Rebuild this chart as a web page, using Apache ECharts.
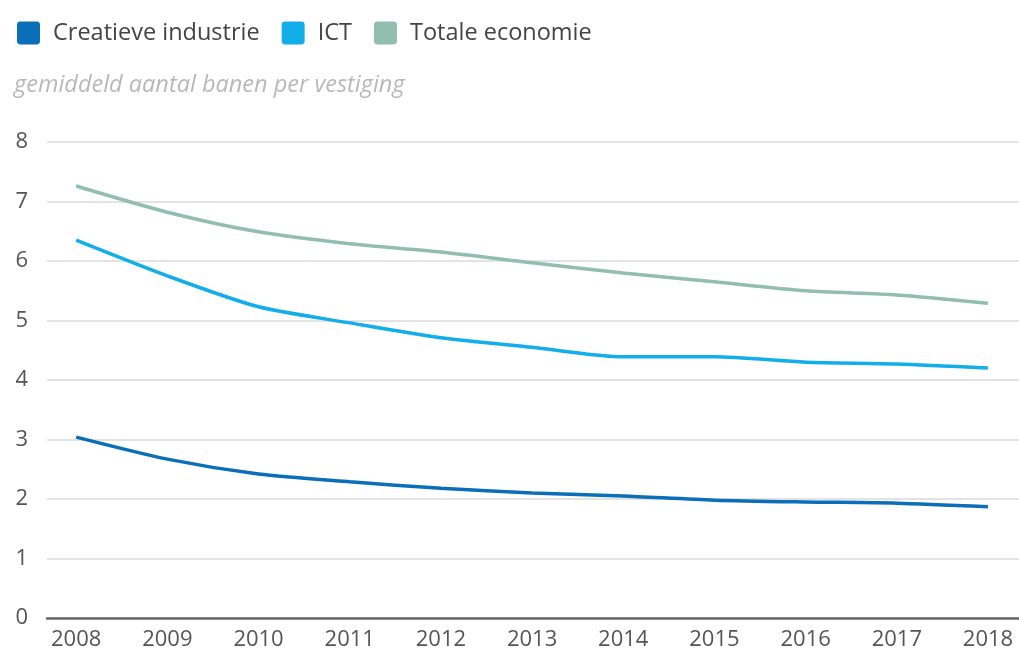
<!DOCTYPE html>
<html><head><meta charset="utf-8">
<script src="https://cdn.jsdelivr.net/npm/echarts@6/dist/echarts.min.js"></script>
<style>html,body{margin:0;padding:0;background:#fff}#c{width:1019px;height:659px}</style>
</head><body><div id="c"></div>
<script>
const years = [2008,2009,2010,2011,2012,2013,2014,2015,2016,2017,2018];
const creatieve = [3.04,2.67,2.42,2.29,2.18,2.10,2.05,1.98,1.95,1.93,1.87];
const ict = [6.35,5.75,5.23,4.96,4.71,4.55,4.39,4.39,4.30,4.27,4.20];
const totale = [7.26,6.82,6.49,6.29,6.15,5.97,5.80,5.65,5.50,5.43,5.29];
const yTicks = [0,1,2,3,4,5,6,7,8];
const pair = a => years.map((y,i)=>[y,a[i]]);
const font = "'Open Sans', 'Noto Sans', sans-serif";
const chart = echarts.init(document.getElementById('c'));
chart.setOption({
  animation:false,
  title:{text:'gemiddeld aantal banen per vestiging',left:9,top:69,
    textStyle:{fontFamily:font,fontStyle:'italic',fontWeight:'normal',fontSize:23.5,color:'#b8b8b8'}},
  legend:{left:12,top:16,icon:'path://M3,0H17Q20,0 20,3V17Q20,20 17,20H3Q0,20 0,17V3Q0,0 3,0Z',
    itemWidth:23,itemHeight:23,itemGap:22,
    textStyle:{fontFamily:font,fontSize:23.5,color:'#444',padding:[0,0,0,8]},
    data:['Creatieve industrie','ICT','Totale economie']},
  grid:{left:47,right:0,top:142,bottom:41},
  xAxis:{type:'value',min:2007.68,max:2018.34,
    axisLine:{show:true,lineStyle:{color:'#666',width:2.5}},
    axisTick:{show:false},splitLine:{show:false},
    axisLabel:{customValues:years,margin:11,fontFamily:font,fontSize:22,color:'#555',formatter:v=>String(v)}},
  yAxis:{type:'value',min:0,max:8,interval:1,
    axisLine:{show:false},axisTick:{show:false},
    splitLine:{lineStyle:{color:'#e3e3e3',width:2}},
    axisLabel:{margin:19,fontFamily:font,fontSize:22,color:'#555',formatter:v=>yTicks.includes(v)?String(v):''}},
  series:[
    {name:'Creatieve industrie',type:'line',data:pair(creatieve),showSymbol:false,smooth:0.25,
      lineStyle:{width:3.5,color:'#0a6fb8'},itemStyle:{color:'#0a6fb8'}},
    {name:'ICT',type:'line',data:pair(ict),showSymbol:false,smooth:0.25,
      lineStyle:{width:3.5,color:'#11aeea'},itemStyle:{color:'#11aeea'}},
    {name:'Totale economie',type:'line',data:pair(totale),showSymbol:false,smooth:0.25,
      lineStyle:{width:3.5,color:'#91beae'},itemStyle:{color:'#91beae'}}
  ]
});
</script></body></html>
